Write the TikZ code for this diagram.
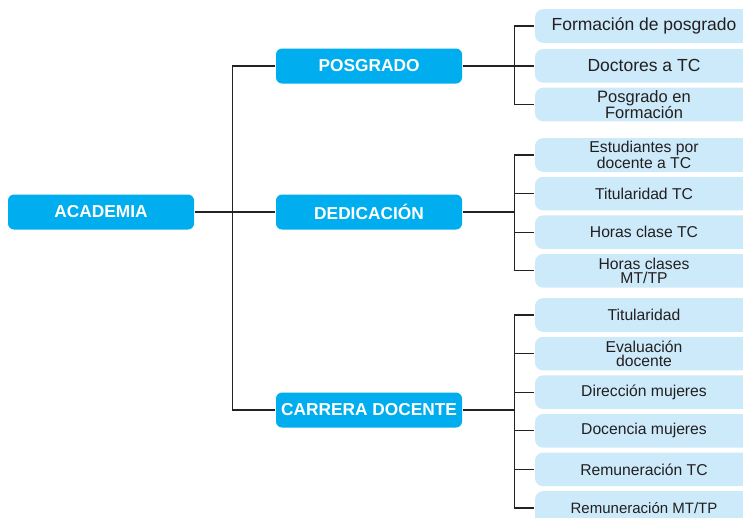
\documentclass[tikz,border=0pt]{standalone}
\usepackage{fontspec}
\setmainfont{Liberation Sans}
\usetikzlibrary{positioning}
\definecolor{cabeza}{RGB}{0,174,239}
\definecolor{hoja}{RGB}{204,234,249}
\definecolor{linea}{RGB}{35,35,35}
\definecolor{texto}{RGB}{35,31,32}

\begin{document}
\begin{tikzpicture}[
  x=1pt, y=-1pt,
  line width=1.3pt,
  node distance=3.7pt,
  main/.style={fill=cabeza, text=white, rounded corners=6pt, minimum width=186pt, minimum height=35pt, inner sep=1pt, font=\fontsize{17.3}{19}\selectfont\bfseries},
  leaf/.style={fill=hoja, text=texto, rounded corners=8pt, minimum width=218pt, minimum height=33.6pt, inner sep=1pt, align=center, font=\fontsize{15.7}{14.5}\selectfont},
  bigleaf/.style={leaf, font=\fontsize{17.5}{16.5}\selectfont},
  conn/.style={draw=linea}
]
  \useasboundingbox (0,0) rectangle (743,517);

  % Raiz y ramas principales
  \node[main] (acad) at (101,212) {ACADEMIA};
  \node[main] (posg) at (369,66) {POSGRADO};
  \node[main] (dedi) at (369,212) {DEDICACIÓN};
  \node[main] (carr) at (369,410) {CARRERA DOCENTE};

  % Hojas de Posgrado
  \node[bigleaf] (p1) at (644,26) {Formación de posgrado};
  \node[bigleaf, below=5pt of p1] (p2) {Doctores a TC};
  \node[leaf, below=of p2, font=\fontsize{16.5}{15.5}\selectfont] (p3) {Posgrado en\\Formación};

  % Hojas de Dedicacion
  \node[leaf] (d1) at (644,155) {Estudiantes por\\docente a TC};
  \node[leaf, below=of d1] (d2) {Titularidad TC};
  \node[leaf, below=of d2] (d3) {Horas clase TC};
  \node[leaf, below=of d3] (d4) {Horas clases\\MT/TP};

  % Hojas de Carrera docente
  \node[leaf] (c1) at (644,315) {Titularidad};
  \node[leaf, below=of c1] (c2) {Evaluación\\docente};
  \node[leaf, below=of c2] (c3) {Dirección mujeres};
  \node[leaf, below=of c3] (c4) {Docencia mujeres};
  \node[leaf, below=of c4] (c5) {Remuneración TC};
  \node[leaf, below=of c5, font=\fontsize{15}{14.5}\selectfont] (c6) {Remuneración MT/TP};

  % Tronco izquierdo
  \draw[conn] (acad) -- (dedi);
  \draw[conn] (posg.west) -- ++(-43,0) |- (carr.west);

  % Conectores hacia las hojas
  \draw[conn] (posg.east) -- ++(52,0) coordinate (jp);
  \foreach \h in {p1,p2,p3} \draw[conn] (jp) |- (\h.west);
  \draw[conn] (dedi.east) -- ++(52,0) coordinate (jd);
  \foreach \h in {d1,d2,d3,d4} \draw[conn] (jd) |- (\h.west);
  \draw[conn] (carr.east) -- ++(52,0) coordinate (jc);
  \foreach \h in {c1,c2,c3,c4,c5,c6} \draw[conn] (jc) |- (\h.west);

\end{tikzpicture}
\end{document}
